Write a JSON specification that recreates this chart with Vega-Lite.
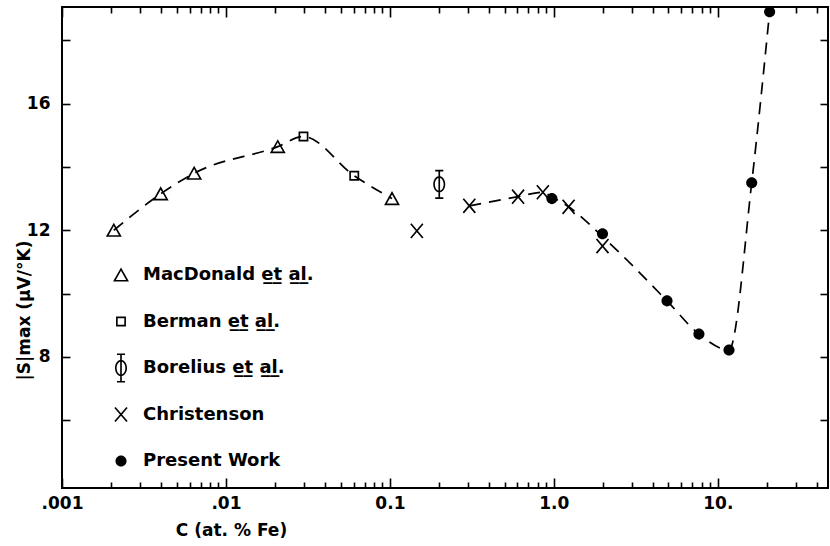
{
  "$schema": "https://vega.github.io/schema/vega-lite/v6.json",
  "width": 766,
  "height": 481,
  "autosize": {"type": "none"},
  "padding": {"left": 62, "top": 7, "right": 2, "bottom": 58},
  "background": "white",
  "config": {
    "view": {"stroke": "black", "strokeWidth": 2},
    "font": "DejaVu Sans",
    "axis": {
      "domain": false, "grid": false, "tickColor": "black", "tickWidth": 1.6,
      "labelColor": "black", "titleColor": "black", "labelFontSize": 17, "labelFontWeight": "bold",
      "labelFont": "DejaVu Sans", "titleFont": "DejaVu Sans", "titleFontWeight": "bold",
      "titleFontSize": 17, "labelFlush": false, "labelOverlap": false, "labelBound": false
    }
  },
  "datasets": {
    "pts": [
      {"c": 0.00207, "s": 12.0, "src": "MacDonald  e\u0332t\u0332  a\u0332l\u0332."},
      {"c": 0.004, "s": 13.15, "src": "MacDonald  e\u0332t\u0332  a\u0332l\u0332."},
      {"c": 0.0064, "s": 13.8, "src": "MacDonald  e\u0332t\u0332  a\u0332l\u0332."},
      {"c": 0.0207, "s": 14.64, "src": "MacDonald  e\u0332t\u0332  a\u0332l\u0332."},
      {"c": 0.103, "s": 13.0, "src": "MacDonald  e\u0332t\u0332  a\u0332l\u0332."},
      {"c": 0.0297, "s": 14.96, "src": "Berman  e\u0332t\u0332  a\u0332l\u0332."},
      {"c": 0.0606, "s": 13.72, "src": "Berman  e\u0332t\u0332  a\u0332l\u0332."},
      {"c": 0.2, "s": 13.45, "src": "Borelius  e\u0332t\u0332  a\u0332l\u0332."},
      {"c": 0.146, "s": 11.98, "src": "Christenson"},
      {"c": 0.305, "s": 12.77, "src": "Christenson"},
      {"c": 0.605, "s": 13.06, "src": "Christenson"},
      {"c": 0.857, "s": 13.2, "src": "Christenson"},
      {"c": 1.23, "s": 12.74, "src": "Christenson"},
      {"c": 1.98, "s": 11.5, "src": "Christenson"},
      {"c": 0.973, "s": 13.0, "src": "Present Work"},
      {"c": 1.98, "s": 11.89, "src": "Present Work"},
      {"c": 4.9, "s": 9.77, "src": "Present Work"},
      {"c": 7.67, "s": 8.72, "src": "Present Work"},
      {"c": 11.7, "s": 8.22, "src": "Present Work"},
      {"c": 16.1, "s": 13.5, "src": "Present Work"},
      {"c": 20.7, "s": 18.9, "src": "Present Work"}
    ],
    "curve": [
      {"c": 0.00207, "s": 12.0, "seg": "A"},
      {"c": 0.004, "s": 13.15, "seg": "A"},
      {"c": 0.0064, "s": 13.8, "seg": "A"},
      {"c": 0.0207, "s": 14.64, "seg": "A"},
      {"c": 0.0297, "s": 14.96, "seg": "A"},
      {"c": 0.0606, "s": 13.72, "seg": "A"},
      {"c": 0.103, "s": 13.0, "seg": "A"},
      {"c": 0.305, "s": 12.77, "seg": "B"},
      {"c": 0.605, "s": 13.06, "seg": "B"},
      {"c": 0.857, "s": 13.2, "seg": "B"},
      {"c": 0.973, "s": 13.05, "seg": "B"},
      {"c": 1.23, "s": 12.74, "seg": "B"},
      {"c": 1.98, "s": 11.8, "seg": "B"},
      {"c": 4.9, "s": 9.77, "seg": "B"},
      {"c": 7.67, "s": 8.72, "seg": "B"},
      {"c": 11.7, "s": 8.22, "seg": "B"},
      {"c": 16.1, "s": 13.5, "seg": "B"},
      {"c": 20.7, "s": 18.9, "seg": "B"}
    ]
  },
  "resolve": {"axis": {"x": "independent", "y": "independent"}},
  "layer": [
    {
      "data": {"name": "curve"},
      "mark": {"type": "line", "color": "black", "strokeWidth": 1.7, "strokeDash": [12, 8], "interpolate": "monotone"},
      "encoding": {
        "x": {"field": "c", "type": "quantitative",
          "scale": {"type": "log", "domain": [0.001, 47], "nice": false},
          "axis": {"orient": "bottom", "values": [0.001, 0.01, 0.1, 1, 10], "ticks": false, "labelPadding": 7,
            "labelExpr": "datum.value < 0.002 ? '.001' : datum.value < 0.02 ? '.01' : datum.value < 0.2 ? '0.1' : datum.value < 2 ? '1.0' : '10.'",
            "title": "C   (at. % Fe)", "titleX": 169, "titleY": 42, "titleAlign": "center", "titleBaseline": "middle", "titleAnchor": null}},
        "y": {"field": "s", "type": "quantitative",
          "scale": {"domain": [3.86, 19.05], "nice": false, "zero": false},
          "axis": {"orient": "left", "values": [8, 12, 16], "ticks": false, "labelPadding": 12,
            "title": "|S|max  (\u03bcV/\u00b0K)", "titleX": -38, "titleY": 303, "titleAlign": "center", "titleBaseline": "middle", "titleAngle": 270, "titleAnchor": null}},
        "detail": {"field": "seg"}
      }
    },
    {
      "data": {"name": "pts"},
      "mark": {"type": "point", "filled": true, "strokeWidth": 0, "size": 900, "opacity": 1},
      "encoding": {
        "x": {"field": "c", "type": "quantitative",
          "scale": {"type": "log", "domain": [0.001, 47], "nice": false},
          "axis": {"orient": "top", "values": [0.001, 0.01, 0.1, 1, 10], "tickSize": -10, "labels": false, "title": null}},
        "y": {"field": "s", "type": "quantitative",
          "scale": {"domain": [3.86, 19.05], "nice": false, "zero": false},
          "axis": {"orient": "right", "values": [6, 8, 10, 12, 14, 16, 18], "tickSize": -8, "labels": false, "title": null}},
        "shape": {"field": "src", "type": "nominal",
          "scale": {
            "domain": ["MacDonald  e\u0332t\u0332  a\u0332l\u0332.", "Berman  e\u0332t\u0332  a\u0332l\u0332.", "Borelius  e\u0332t\u0332  a\u0332l\u0332.", "Christenson", "Present Work"],
            "range": [
              "M0,-0.5L0.53,0.44L-0.53,0.44ZM0,-0.276L-0.342,0.33L0.342,0.33Z",
              "M-0.33,-0.33H0.33V0.33H-0.33ZM-0.22,-0.22V0.22H0.22V-0.22Z",
              "M-0.055,-0.97H0.055V0.97H-0.055ZM-0.27,-0.97H0.27V-0.86H-0.27ZM-0.27,0.86H0.27V0.97H-0.27ZM0,-0.55A0.4,0.55 0 1 1 0,0.55A0.4,0.55 0 1 1 0,-0.55ZM0,-0.44A0.29,0.44 0 1 0 0,0.44A0.29,0.44 0 1 0 0,-0.44Z",
              "M-0.442,-0.434L0.358,0.506L0.442,0.434L-0.358,-0.506ZM0.358,-0.506L-0.442,0.434L-0.358,0.506L0.442,-0.434Z",
              "M0.37,0A0.37,0.37 0 1 1 -0.37,0A0.37,0.37 0 1 1 0.37,0Z"
            ]},
          "legend": {"orient": "none", "legendX": 44, "legendY": 253, "title": null, "labelFontSize": 18, "labelFontWeight": "bold",
            "labelFont": "DejaVu Sans", "labelColor": "black", "symbolSize": 900, "symbolStrokeWidth": 0,
            "clipHeight": 30, "rowPadding": 16.5, "labelOffset": 7, "padding": 0, "labelLimit": 400}},
        "fill": {"field": "src", "type": "nominal",
          "scale": {
            "domain": ["MacDonald  e\u0332t\u0332  a\u0332l\u0332.", "Berman  e\u0332t\u0332  a\u0332l\u0332.", "Borelius  e\u0332t\u0332  a\u0332l\u0332.", "Christenson", "Present Work"],
            "range": ["black", "black", "black", "black", "black"]},
          "legend": {"orient": "none", "legendX": 44, "legendY": 253, "title": null, "labelFontSize": 18, "labelFontWeight": "bold",
            "labelFont": "DejaVu Sans", "labelColor": "black", "symbolSize": 900, "symbolStrokeWidth": 0,
            "clipHeight": 30, "rowPadding": 16.5, "labelOffset": 7, "padding": 0, "labelLimit": 400}}
      }
    },
    {
      "data": {"name": "pts"},
      "mark": {"type": "point", "opacity": 0},
      "encoding": {
        "x": {"field": "c", "type": "quantitative",
          "scale": {"type": "log", "domain": [0.001, 47], "nice": false},
          "axis": {"orient": "bottom", "values": [0.001, 0.01, 0.1, 1, 10], "tickSize": -10, "labels": false, "title": null}},
        "y": {"field": "s", "type": "quantitative",
          "scale": {"domain": [3.86, 19.05], "nice": false, "zero": false},
          "axis": {"orient": "left", "values": [6, 8, 10, 12, 14, 16, 18], "tickSize": -8, "labels": false, "title": null}}
      }
    },
    {
      "data": {"name": "pts"},
      "mark": {"type": "point", "opacity": 0},
      "encoding": {
        "x": {"field": "c", "type": "quantitative",
          "scale": {"type": "log", "domain": [0.001, 47], "nice": false},
          "axis": {"orient": "bottom", "values": [0.002, 0.003, 0.004, 0.005, 0.006, 0.007, 0.008, 0.009, 0.02, 0.03, 0.04, 0.05, 0.06, 0.07, 0.08, 0.09, 0.2, 0.3, 0.4, 0.5, 0.6, 0.7, 0.8, 0.9, 2, 3, 4, 5, 6, 7, 8, 9, 20, 30, 40], "tickSize": -6, "labels": false, "title": null}},
        "y": {"field": "s", "type": "quantitative",
          "scale": {"domain": [3.86, 19.05], "nice": false, "zero": false}, "axis": null}
      }
    },
    {
      "data": {"name": "pts"},
      "mark": {"type": "point", "opacity": 0},
      "encoding": {
        "x": {"field": "c", "type": "quantitative",
          "scale": {"type": "log", "domain": [0.001, 47], "nice": false},
          "axis": {"orient": "top", "values": [0.002, 0.003, 0.004, 0.005, 0.006, 0.007, 0.008, 0.009, 0.02, 0.03, 0.04, 0.05, 0.06, 0.07, 0.08, 0.09, 0.2, 0.3, 0.4, 0.5, 0.6, 0.7, 0.8, 0.9, 2, 3, 4, 5, 6, 7, 8, 9, 20, 30, 40], "tickSize": -6, "labels": false, "title": null}},
        "y": {"field": "s", "type": "quantitative",
          "scale": {"domain": [3.86, 19.05], "nice": false, "zero": false}, "axis": null}
      }
    }
  ]
}
